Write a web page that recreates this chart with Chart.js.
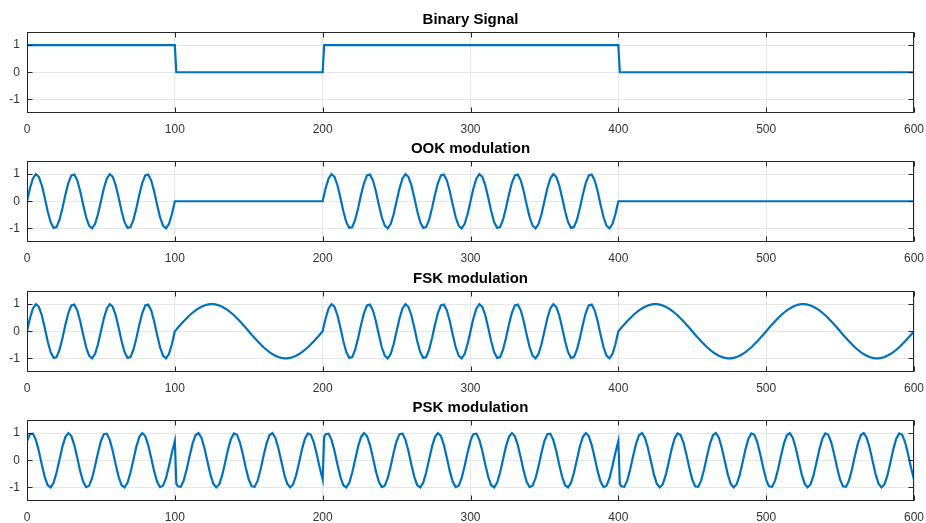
<!DOCTYPE html>
<html lang="en">
<head>
    <meta charset="UTF-8">
    <title>Binary Signal / OOK / FSK / PSK modulation</title>
    <script src="https://cdn.jsdelivr.net/npm/chart.js"></script>
    <style>
        body { margin: 0; background: #fff; }
        #figure { position: relative; width: 926px; height: 523px; overflow: hidden; }
        #figure canvas { position: absolute; left: 0; }
    </style>
</head>
<body>
    <div id="figure">
        <canvas id="plot0" width="926" height="150" style="top:0px"></canvas>
        <canvas id="plot1" width="926" height="150" style="top:129px"></canvas>
        <canvas id="plot2" width="926" height="150" style="top:259px"></canvas>
        <canvas id="plot3" width="926" height="150" style="top:388px"></canvas>
    </div>

    <script>
        const titles = ['Binary Signal', 'OOK modulation', 'FSK modulation', 'PSK modulation'];
        const xTicks = [0, 100, 200, 300, 400, 500, 600];
        const yTicks = [-1, 0, 1];

        // binary signal: bits 1 0 1 1 0 0, 100 samples each
        const binaryX = [0, 100, 101, 200, 201, 400, 401, 600];
        const binaryY = [1, 1, 0, 0, 1, 1, 0, 0];

        // sample positions shared by the three modulated signals
        const sampleX = [
            0,2,4,6,8,10,12,14,16,18,20,22,24,26,28,30,32,34,36,38,40,42,44,46,48,50,52,54,56,58,60,62,64,66,68,70,72,74,76,78,80,82,84,86,88,90,92,94,96,98,100,
            101,102,104,106,108,110,112,114,116,118,120,122,124,126,128,130,132,134,136,138,140,142,144,146,148,150,152,154,156,158,160,162,164,166,168,170,172,174,176,178,180,182,184,186,188,190,192,194,196,198,200,
            201,202,204,206,208,210,212,214,216,218,220,222,224,226,228,230,232,234,236,238,240,242,244,246,248,250,252,254,256,258,260,262,264,266,268,270,272,274,276,278,280,282,284,286,288,290,292,294,296,298,300,
            301,302,304,306,308,310,312,314,316,318,320,322,324,326,328,330,332,334,336,338,340,342,344,346,348,350,352,354,356,358,360,362,364,366,368,370,372,374,376,378,380,382,384,386,388,390,392,394,396,398,400,
            401,402,404,406,408,410,412,414,416,418,420,422,424,426,428,430,432,434,436,438,440,442,444,446,448,450,452,454,456,458,460,462,464,466,468,470,472,474,476,478,480,482,484,486,488,490,492,494,496,498,500,
            501,502,504,506,508,510,512,514,516,518,520,522,524,526,528,530,532,534,536,538,540,542,544,546,548,550,552,554,556,558,560,562,564,566,568,570,572,574,576,578,580,582,584,586,588,590,592,594,596,598,600
        ];

        const ookY = [
            0,0.48,0.84,1,0.9,0.59,0.13,-0.37,-0.77,-0.98,-0.95,-0.68,-0.25,0.25,0.68,0.95,0.98,0.77,0.37,-0.13,-0.59,-0.9,-1,-0.84,-0.48,0,0.48,0.84,1,0.9,0.59,0.13,-0.37,-0.77,-0.98,-0.95,-0.68,-0.25,0.25,0.68,0.95,0.98,0.77,0.37,-0.13,-0.59,-0.9,-1,-0.84,-0.48,0,
            0,0,0,0,0,0,0,0,0,0,0,0,0,0,0,0,0,0,0,0,0,0,0,0,0,0,0,0,0,0,0,0,0,0,0,0,0,0,0,0,0,0,0,0,0,0,0,0,0,0,0,
            0.25,0.48,0.84,1,0.9,0.59,0.13,-0.37,-0.77,-0.98,-0.95,-0.68,-0.25,0.25,0.68,0.95,0.98,0.77,0.37,-0.13,-0.59,-0.9,-1,-0.84,-0.48,0,0.48,0.84,1,0.9,0.59,0.13,-0.37,-0.77,-0.98,-0.95,-0.68,-0.25,0.25,0.68,0.95,0.98,0.77,0.37,-0.13,-0.59,-0.9,-1,-0.84,-0.48,0,
            0.25,0.48,0.84,1,0.9,0.59,0.13,-0.37,-0.77,-0.98,-0.95,-0.68,-0.25,0.25,0.68,0.95,0.98,0.77,0.37,-0.13,-0.59,-0.9,-1,-0.84,-0.48,0,0.48,0.84,1,0.9,0.59,0.13,-0.37,-0.77,-0.98,-0.95,-0.68,-0.25,0.25,0.68,0.95,0.98,0.77,0.37,-0.13,-0.59,-0.9,-1,-0.84,-0.48,0,
            0,0,0,0,0,0,0,0,0,0,0,0,0,0,0,0,0,0,0,0,0,0,0,0,0,0,0,0,0,0,0,0,0,0,0,0,0,0,0,0,0,0,0,0,0,0,0,0,0,0,0,
            0,0,0,0,0,0,0,0,0,0,0,0,0,0,0,0,0,0,0,0,0,0,0,0,0,0,0,0,0,0,0,0,0,0,0,0,0,0,0,0,0,0,0,0,0,0,0,0,0,0,0
        ];

        const fskY = [
            0,0.48,0.84,1,0.9,0.59,0.13,-0.37,-0.77,-0.98,-0.95,-0.68,-0.25,0.25,0.68,0.95,0.98,0.77,0.37,-0.13,-0.59,-0.9,-1,-0.84,-0.48,0,0.48,0.84,1,0.9,0.59,0.13,-0.37,-0.77,-0.98,-0.95,-0.68,-0.25,0.25,0.68,0.95,0.98,0.77,0.37,-0.13,-0.59,-0.9,-1,-0.84,-0.48,0,
            0.06,0.13,0.25,0.37,0.48,0.59,0.68,0.77,0.84,0.9,0.95,0.98,1,1,0.98,0.95,0.9,0.84,0.77,0.68,0.59,0.48,0.37,0.25,0.13,0,-0.13,-0.25,-0.37,-0.48,-0.59,-0.68,-0.77,-0.84,-0.9,-0.95,-0.98,-1,-1,-0.98,-0.95,-0.9,-0.84,-0.77,-0.68,-0.59,-0.48,-0.37,-0.25,-0.13,0,
            0.25,0.48,0.84,1,0.9,0.59,0.13,-0.37,-0.77,-0.98,-0.95,-0.68,-0.25,0.25,0.68,0.95,0.98,0.77,0.37,-0.13,-0.59,-0.9,-1,-0.84,-0.48,0,0.48,0.84,1,0.9,0.59,0.13,-0.37,-0.77,-0.98,-0.95,-0.68,-0.25,0.25,0.68,0.95,0.98,0.77,0.37,-0.13,-0.59,-0.9,-1,-0.84,-0.48,0,
            0.25,0.48,0.84,1,0.9,0.59,0.13,-0.37,-0.77,-0.98,-0.95,-0.68,-0.25,0.25,0.68,0.95,0.98,0.77,0.37,-0.13,-0.59,-0.9,-1,-0.84,-0.48,0,0.48,0.84,1,0.9,0.59,0.13,-0.37,-0.77,-0.98,-0.95,-0.68,-0.25,0.25,0.68,0.95,0.98,0.77,0.37,-0.13,-0.59,-0.9,-1,-0.84,-0.48,0,
            0.06,0.13,0.25,0.37,0.48,0.59,0.68,0.77,0.84,0.9,0.95,0.98,1,1,0.98,0.95,0.9,0.84,0.77,0.68,0.59,0.48,0.37,0.25,0.13,0,-0.13,-0.25,-0.37,-0.48,-0.59,-0.68,-0.77,-0.84,-0.9,-0.95,-0.98,-1,-1,-0.98,-0.95,-0.9,-0.84,-0.77,-0.68,-0.59,-0.48,-0.37,-0.25,-0.13,0,
            0.06,0.13,0.25,0.37,0.48,0.59,0.68,0.77,0.84,0.9,0.95,0.98,1,1,0.98,0.95,0.9,0.84,0.77,0.68,0.59,0.48,0.37,0.25,0.13,0,-0.13,-0.25,-0.37,-0.48,-0.59,-0.68,-0.77,-0.84,-0.9,-0.95,-0.98,-1,-1,-0.98,-0.95,-0.9,-0.84,-0.77,-0.68,-0.59,-0.48,-0.37,-0.25,-0.13,0
        ];

        const pskY = [
            0.71,0.96,0.98,0.75,0.34,-0.16,-0.61,-0.92,-1,-0.83,-0.45,0.03,0.51,0.86,1,0.89,0.56,0.09,-0.4,-0.79,-0.99,-0.94,-0.66,-0.22,0.28,0.71,0.96,0.98,0.75,0.34,-0.16,-0.61,-0.92,-1,-0.83,-0.45,0.03,0.51,0.86,1,0.89,0.56,0.09,-0.4,-0.79,-0.99,-0.94,-0.66,-0.22,0.28,0.71,
            -0.86,-0.96,-0.98,-0.75,-0.34,0.16,0.61,0.92,1,0.83,0.45,-0.03,-0.51,-0.86,-1,-0.89,-0.56,-0.09,0.4,0.79,0.99,0.94,0.66,0.22,-0.28,-0.71,-0.96,-0.98,-0.75,-0.34,0.16,0.61,0.92,1,0.83,0.45,-0.03,-0.51,-0.86,-1,-0.89,-0.56,-0.09,0.4,0.79,0.99,0.94,0.66,0.22,-0.28,-0.71,
            0.86,0.96,0.98,0.75,0.34,-0.16,-0.61,-0.92,-1,-0.83,-0.45,0.03,0.51,0.86,1,0.89,0.56,0.09,-0.4,-0.79,-0.99,-0.94,-0.66,-0.22,0.28,0.71,0.96,0.98,0.75,0.34,-0.16,-0.61,-0.92,-1,-0.83,-0.45,0.03,0.51,0.86,1,0.89,0.56,0.09,-0.4,-0.79,-0.99,-0.94,-0.66,-0.22,0.28,0.71,
            0.86,0.96,0.98,0.75,0.34,-0.16,-0.61,-0.92,-1,-0.83,-0.45,0.03,0.51,0.86,1,0.89,0.56,0.09,-0.4,-0.79,-0.99,-0.94,-0.66,-0.22,0.28,0.71,0.96,0.98,0.75,0.34,-0.16,-0.61,-0.92,-1,-0.83,-0.45,0.03,0.51,0.86,1,0.89,0.56,0.09,-0.4,-0.79,-0.99,-0.94,-0.66,-0.22,0.28,0.71,
            -0.86,-0.96,-0.98,-0.75,-0.34,0.16,0.61,0.92,1,0.83,0.45,-0.03,-0.51,-0.86,-1,-0.89,-0.56,-0.09,0.4,0.79,0.99,0.94,0.66,0.22,-0.28,-0.71,-0.96,-0.98,-0.75,-0.34,0.16,0.61,0.92,1,0.83,0.45,-0.03,-0.51,-0.86,-1,-0.89,-0.56,-0.09,0.4,0.79,0.99,0.94,0.66,0.22,-0.28,-0.71,
            -0.86,-0.96,-0.98,-0.75,-0.34,0.16,0.61,0.92,1,0.83,0.45,-0.03,-0.51,-0.86,-1,-0.89,-0.56,-0.09,0.4,0.79,0.99,0.94,0.66,0.22,-0.28,-0.71,-0.96,-0.98,-0.75,-0.34,0.16,0.61,0.92,1,0.83,0.45,-0.03,-0.51,-0.86,-1,-0.89,-0.56,-0.09,0.4,0.79,0.99,0.94,0.66,0.22,-0.28,-0.71
        ];

        const FONT = "'Liberation Sans', Arial, Helvetica, sans-serif";
        const LINE_COLOR = '#0072BD';
        const AXIS_COLOR = '#262626';

        function toPoints(xs, ys) {
            return xs.map((x, i) => ({ x: x, y: ys[i] }));
        }

        // axes box with little inward tick marks, plus the title centred over the plot area
        const boxPlugin = {
            id: 'axesBox',
            afterDraw(chart, args, opts) {
                const { ctx, chartArea: a, scales } = chart;
                const l = Math.round(a.left) + 0.5, r = Math.round(a.right) - 0.5;
                const t = Math.round(a.top) + 0.5, b = Math.round(a.bottom) - 0.5;
                ctx.save();
                ctx.strokeStyle = AXIS_COLOR;
                ctx.lineWidth = 1;
                ctx.strokeRect(l, t, r - l, b - t);
                ctx.beginPath();
                xTicks.forEach(v => {
                    const px = Math.round(scales.x.getPixelForValue(v)) + 0.5;
                    ctx.moveTo(px, b); ctx.lineTo(px, b - 5);
                    ctx.moveTo(px, t); ctx.lineTo(px, t + 5);
                });
                yTicks.forEach(v => {
                    const py = Math.round(scales.y.getPixelForValue(v)) + 0.5;
                    ctx.moveTo(l, py); ctx.lineTo(l + 5, py);
                    ctx.moveTo(r, py); ctx.lineTo(r - 5, py);
                });
                ctx.stroke();

                ctx.fillStyle = '#000';
                ctx.font = 'bold 15px ' + FONT;
                ctx.textAlign = 'center';
                ctx.textBaseline = 'alphabetic';
                ctx.fillText(opts.text, (a.left + a.right) / 2, a.top - 8);
                ctx.restore();
            }
        };

        const series = [
            toPoints(binaryX, binaryY),
            toPoints(sampleX, ookY),
            toPoints(sampleX, fskY),
            toPoints(sampleX, pskY)
        ];

        series.forEach((points, i) => {
            const ctx = document.getElementById('plot' + i).getContext('2d');
            new Chart(ctx, {
                type: 'line',
                data: {
                    datasets: [{
                        data: points,
                        borderColor: LINE_COLOR,
                        borderWidth: 2.2,
                        pointRadius: 0,
                        tension: 0,
                        fill: false
                    }]
                },
                options: {
                    responsive: false,
                    animation: false,
                    devicePixelRatio: 1,
                    layout: { padding: { left: 0, right: 12, top: 31.5, bottom: 0 } },
                    plugins: {
                        legend: { display: false },
                        tooltip: { enabled: false },
                        title: { display: false },
                        axesBox: { text: titles[i] }
                    },
                    scales: {
                        x: {
                            type: 'linear',
                            min: 0,
                            max: 600,
                            afterBuildTicks: s => { s.ticks = xTicks.map(v => ({ value: v })); },
                            afterFit: s => { s.height = 37; s.paddingLeft = 0; s.paddingRight = 0; },
                            grid: { color: '#e6e6e6', drawTicks: false },
                            border: { display: false },
                            ticks: {
                                color: '#333',
                                padding: 9,
                                maxRotation: 0,
                                font: { family: FONT, size: 12 }
                            }
                        },
                        y: {
                            min: -1.5,
                            max: 1.5,
                            afterBuildTicks: s => { s.ticks = yTicks.map(v => ({ value: v })); },
                            afterFit: s => { s.width = 27; s.paddingTop = 0; s.paddingBottom = 0; },
                            grid: { color: '#e6e6e6', drawTicks: false },
                            border: { display: false },
                            ticks: {
                                color: '#333',
                                padding: 7,
                                font: { family: FONT, size: 12 }
                            }
                        }
                    }
                },
                plugins: [boxPlugin]
            });
        });
    </script>
</body>
</html>
